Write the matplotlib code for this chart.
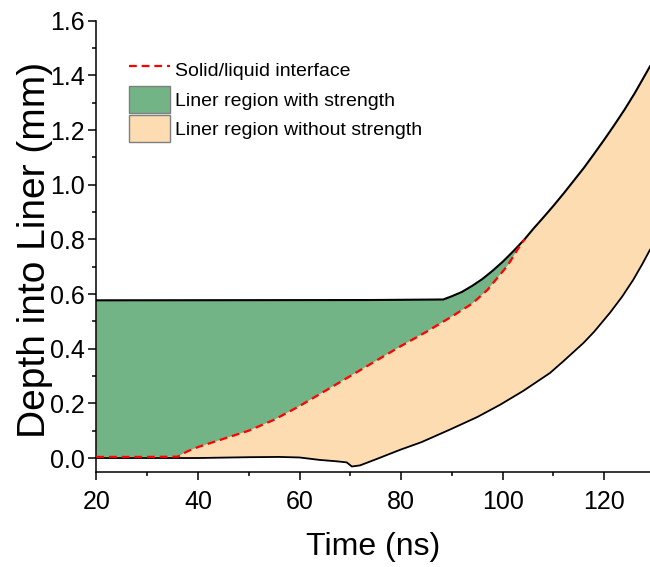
import matplotlib.pyplot as plt
from matplotlib.patches import Patch
from matplotlib.lines import Line2D
from matplotlib.ticker import MultipleLocator

# outer (top) boundary of the liner
time_top = [20, 74, 88.3, 90, 92, 94, 96, 98, 100, 102, 104.3, 106, 108, 110, 112, 114, 116,
            118, 120, 122, 124, 126, 129]
depth_top = [0.577, 0.578, 0.580, 0.592, 0.608, 0.630, 0.655, 0.685, 0.718, 0.755, 0.800,
             0.838, 0.880, 0.923, 0.968, 1.015, 1.062, 1.113, 1.165, 1.219, 1.275, 1.335, 1.433]

# solid/liquid interface
time_melt = [20, 30, 36, 38, 40, 45, 50, 55, 60, 65, 70, 75, 80, 85, 90, 94, 97, 99, 101, 103, 104.3]
depth_melt = [0.004, 0.004, 0.005, 0.025, 0.040, 0.070, 0.100, 0.140, 0.190, 0.245, 0.300,
              0.355, 0.410, 0.462, 0.518, 0.565, 0.615, 0.660, 0.705, 0.765, 0.800]

# inner (bottom) boundary of the liner
time_bot = [20, 30, 40, 50, 56, 60, 64, 67.3, 69.3, 70.3, 71.9, 75, 79.8, 84, 89.6, 95, 99.5,
            104, 109.3, 112, 115.9, 118, 121.1, 123.5, 125.7, 127.5, 129]
depth_bot = [0.0, 0.0, 0.0, 0.003, 0.004, 0.002, -0.007, -0.012, -0.016, -0.031, -0.027, -0.005,
             0.030, 0.058, 0.104, 0.150, 0.195, 0.245, 0.311, 0.355, 0.421, 0.462, 0.531, 0.590,
             0.652, 0.710, 0.762]

legend_labels = ['Solid/liquid interface', 'Liner region with strength', 'Liner region without strength']

green = '#72b486'
peach = '#fddcb2'
font = 'Liberation Sans'

fig = plt.figure(figsize=(6.5, 5.67), dpi=100)
ax = fig.add_axes([0.1482, 0.1681, 0.8518, 0.7954])

# liquid region: everything between inner and outer boundary
poly_x = time_bot + time_top[::-1]
poly_y = depth_bot + depth_top[::-1]
ax.fill(poly_x, poly_y, color=peach, lw=0, zorder=1)

# solid region sits between the interface and the outer boundary
top_part = [(t, d) for t, d in zip(time_top, depth_top) if t <= time_melt[-1]]
gx = time_melt + [t for t, d in top_part][::-1]
gy = depth_melt + [d for t, d in top_part][::-1]
ax.fill(gx, gy, color=green, lw=0, zorder=2)

ax.plot(time_top, depth_top, color='black', lw=1.5, zorder=3)
ax.plot(time_bot, depth_bot, color='black', lw=1.3, zorder=3)
ax.plot(time_melt, depth_melt, color='red', lw=1.6, dashes=(3.5, 2.2), zorder=4)

ax.set_xlim(20, 129)
ax.set_ylim(-0.05, 1.6)
ax.xaxis.set_major_locator(MultipleLocator(20))
ax.xaxis.set_minor_locator(MultipleLocator(10))
ax.yaxis.set_major_locator(MultipleLocator(0.2))
ax.yaxis.set_minor_locator(MultipleLocator(0.1))
ax.yaxis.set_major_formatter(lambda v, p: '%.1f' % v)

for side in ['top', 'right']:
    ax.spines[side].set_visible(False)
for side in ['left', 'bottom']:
    ax.spines[side].set_linewidth(1.1)

ax.tick_params(which='major', direction='out', length=6, width=1.1)
ax.tick_params(which='minor', direction='out', length=3, width=1.1)
ax.tick_params(axis='x', which='major', pad=7)
ax.tick_params(axis='y', which='major', pad=2)
for lab in ax.get_xticklabels() + ax.get_yticklabels():
    lab.set_family(font)
    lab.set_fontsize(18)

ax.set_xlabel('Time (ns)', family=font, fontsize=23, labelpad=13)
ax.set_ylabel('Depth into Liner (mm)', family=font, fontsize=28)
ax.yaxis.set_label_coords(-0.078, 0.492)

handles = [Line2D([], [], color='red', lw=1.6, dashes=(3.5, 2.2)),
           Patch(facecolor=green, edgecolor='#7f7f7f', lw=1),
           Patch(facecolor=peach, edgecolor='#7f7f7f', lw=1)]
ax.legend(handles, legend_labels, loc='upper left', bbox_to_anchor=(0.198, 0.9004),
          bbox_transform=fig.transFigure, frameon=False, borderpad=0, borderaxespad=0,
          handlelength=2.1, handleheight=1.755, handletextpad=0.3, labelspacing=0.13,
          prop={'family': font, 'size': 14})

fig.savefig('out.png', dpi=100)
